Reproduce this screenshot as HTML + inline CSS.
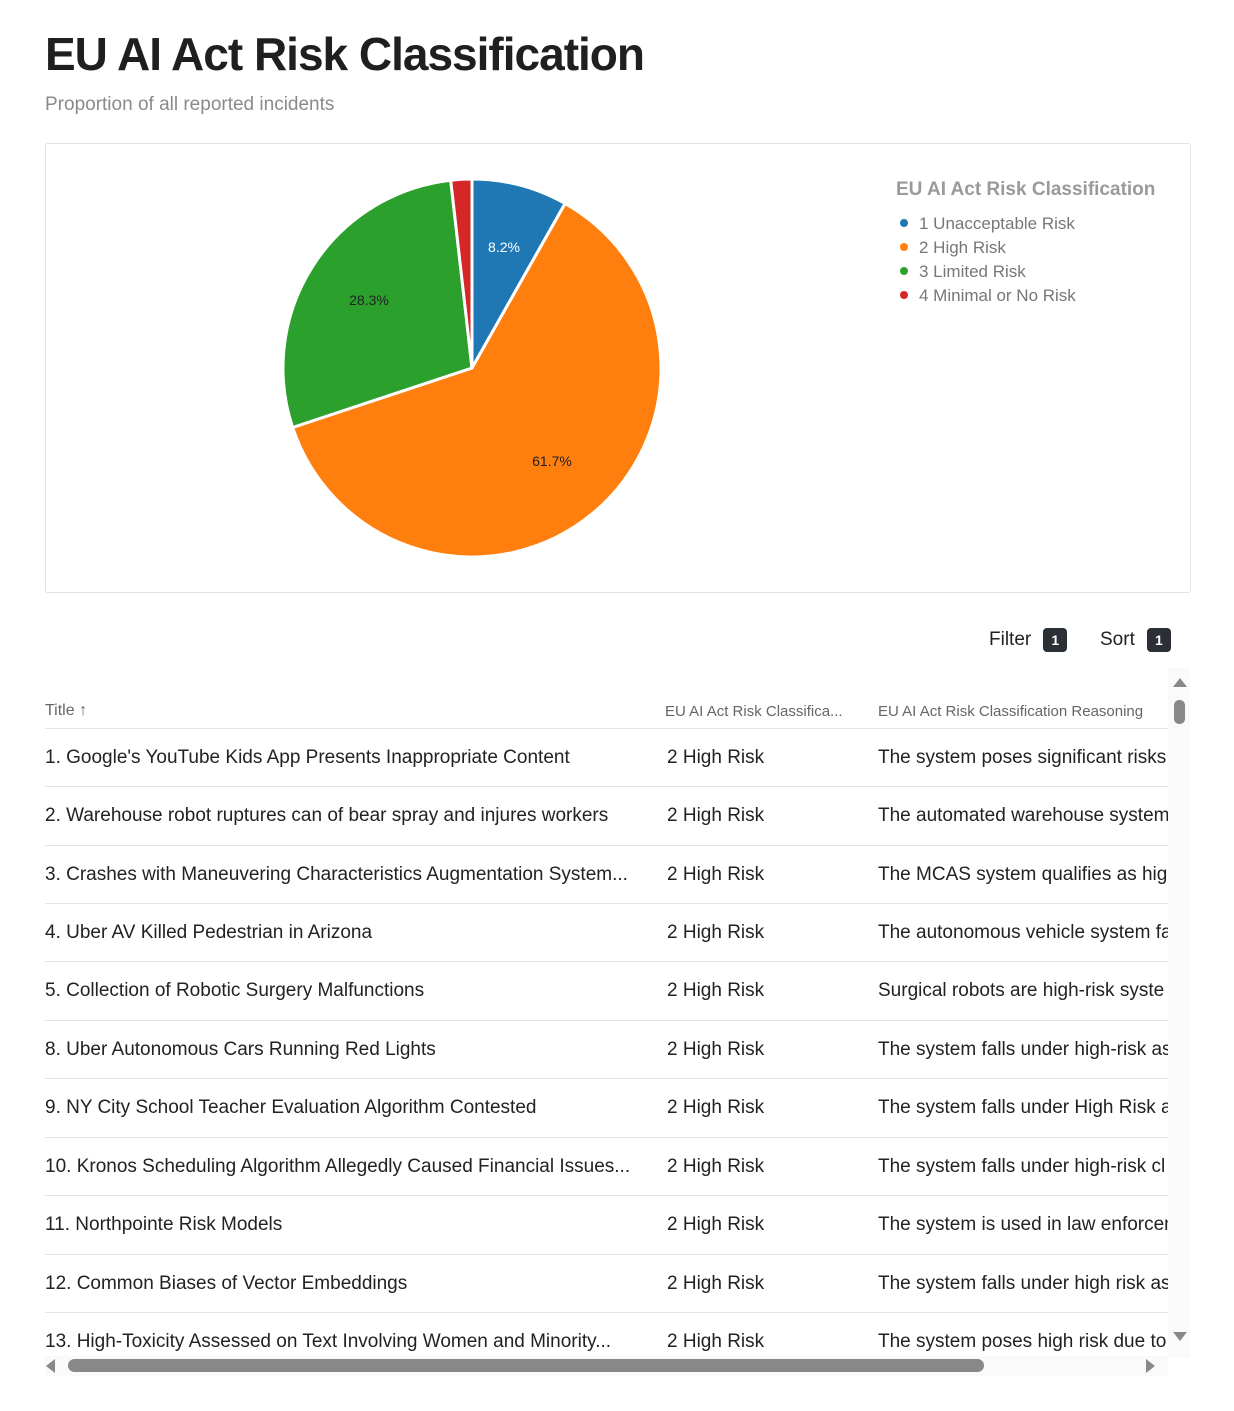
<!DOCTYPE html>
<html><head><meta charset="utf-8"><style>
body{margin:0;width:1234px;height:1411px;background:#fff;font-family:"Liberation Sans",sans-serif;position:relative;overflow:hidden;color:#222}
.a{position:absolute;white-space:nowrap}
.row{position:absolute;left:45px;width:1123px;height:58px;border-top:1px solid #e4e4e4}
.row span{position:absolute;top:18px;font-size:19px;color:#222;white-space:nowrap;overflow:hidden}
.c1{left:0;width:600px}.c2{left:622px}.c3{left:833px;width:290px}
.badge{display:inline-block;background:#2b2f36;color:#fff;font-size:14px;font-weight:bold;width:24px;height:24px;line-height:24px;text-align:center;border-radius:4px;margin-left:12px;vertical-align:middle}
</style></head><body>
<div class="a" style="left:45px;top:27px;font-size:46px;font-weight:bold;color:#1f1f1f;letter-spacing:-1px">EU AI Act Risk Classification</div>
<div class="a" style="left:45px;top:94px;font-size:19px;color:#8a8a8a">Proportion of all reported incidents</div>
<div class="a" style="left:45px;top:143px;width:1144px;height:448px;border:1px solid #e3e3e3;border-radius:3px"></div>
<svg class="a" style="left:0;top:0" width="1234" height="600">
<g stroke="#fff" stroke-width="3" stroke-linejoin="round">
<path d="M472,368 L472,179 A189,189 0 0 1 565.1,203.5 Z" fill="#1f77b4"/>
<path d="M472,368 L565.1,203.5 A189,189 0 1 1 292.6,427.5 Z" fill="#ff7f0e"/>
<path d="M472,368 L292.6,427.5 A189,189 0 0 1 450.7,180.2 Z" fill="#2ca02c"/>
<path d="M472,368 L450.7,180.2 A189,189 0 0 1 472,179 Z" fill="#d62728"/>
</g>
<g font-family="Liberation Sans,sans-serif" font-size="14" text-anchor="middle">
<text x="504" y="252" fill="#fff">8.2%</text>
<text x="369" y="305" fill="#222">28.3%</text>
<text x="552" y="466" fill="#222">61.7%</text>
</g>
<g font-family="Liberation Sans,sans-serif">
<text x="896" y="195" font-size="19" font-weight="bold" fill="#9a9a9a">EU AI Act Risk Classification</text>
<circle cx="904" cy="223" r="4" fill="#1f77b4"/><text x="919" y="229" font-size="17" fill="#777">1 Unacceptable Risk</text>
<circle cx="904" cy="247" r="4" fill="#ff7f0e"/><text x="919" y="253" font-size="17" fill="#777">2 High Risk</text>
<circle cx="904" cy="271" r="4" fill="#2ca02c"/><text x="919" y="277" font-size="17" fill="#777">3 Limited Risk</text>
<circle cx="904" cy="295" r="4" fill="#d62728"/><text x="919" y="301" font-size="17" fill="#777">4 Minimal or No Risk</text>
</g></svg>
<div class="a" style="left:989px;top:628px;font-size:19px;color:#222">Filter<span class="badge">1</span></div>
<div class="a" style="left:1100px;top:628px;font-size:19px;color:#222">Sort<span class="badge">1</span></div>
<div class="a" style="left:45px;top:702px;font-size:16px;color:#666">Title ↑</div>
<div class="a" style="left:665px;top:703px;font-size:15px;color:#666">EU AI Act Risk Classifica...</div>
<div class="a" style="left:878px;top:703px;font-size:15px;color:#666">EU AI Act Risk Classification Reasoning</div>
<div class="row" style="top:728px"><span class="c1">1. Google's YouTube Kids App Presents Inappropriate Content</span><span class="c2">2 High Risk</span><span class="c3">The system poses significant risks</span></div>
<div class="row" style="top:786px"><span class="c1">2. Warehouse robot ruptures can of bear spray and injures workers</span><span class="c2">2 High Risk</span><span class="c3">The automated warehouse system</span></div>
<div class="row" style="top:845px"><span class="c1">3. Crashes with Maneuvering Characteristics Augmentation System...</span><span class="c2">2 High Risk</span><span class="c3">The MCAS system qualifies as high</span></div>
<div class="row" style="top:903px"><span class="c1">4. Uber AV Killed Pedestrian in Arizona</span><span class="c2">2 High Risk</span><span class="c3">The autonomous vehicle system fa</span></div>
<div class="row" style="top:961px"><span class="c1">5. Collection of Robotic Surgery Malfunctions</span><span class="c2">2 High Risk</span><span class="c3">Surgical robots are high-risk syste</span></div>
<div class="row" style="top:1020px"><span class="c1">8. Uber Autonomous Cars Running Red Lights</span><span class="c2">2 High Risk</span><span class="c3">The system falls under high-risk as</span></div>
<div class="row" style="top:1078px"><span class="c1">9. NY City School Teacher Evaluation Algorithm Contested</span><span class="c2">2 High Risk</span><span class="c3">The system falls under High Risk a</span></div>
<div class="row" style="top:1137px"><span class="c1">10. Kronos Scheduling Algorithm Allegedly Caused Financial Issues...</span><span class="c2">2 High Risk</span><span class="c3">The system falls under high-risk cl</span></div>
<div class="row" style="top:1195px"><span class="c1">11. Northpointe Risk Models</span><span class="c2">2 High Risk</span><span class="c3">The system is used in law enforcem</span></div>
<div class="row" style="top:1254px"><span class="c1">12. Common Biases of Vector Embeddings</span><span class="c2">2 High Risk</span><span class="c3">The system falls under high risk as</span></div>
<div class="row" style="top:1312px;height:44px"><span class="c1">13. High-Toxicity Assessed on Text Involving Women and Minority...</span><span class="c2">2 High Risk</span><span class="c3">The system poses high risk due to</span></div>
<div class="a" style="left:1168px;top:668px;width:22px;height:690px;background:#fafafa"></div>
<div class="a" style="left:1173px;top:678px;width:0;height:0;border-left:7px solid transparent;border-right:7px solid transparent;border-bottom:9px solid #888"></div>
<div class="a" style="left:1174px;top:700px;width:11px;height:24px;background:#888;border-radius:5px"></div>
<div class="a" style="left:1173px;top:1332px;width:0;height:0;border-left:7px solid transparent;border-right:7px solid transparent;border-top:9px solid #888"></div>
<div class="a" style="left:45px;top:1356px;width:1123px;height:20px;background:#fafafa"></div>
<div class="a" style="left:46px;top:1359px;width:0;height:0;border-top:7px solid transparent;border-bottom:7px solid transparent;border-right:9px solid #888"></div>
<div class="a" style="left:68px;top:1359px;width:916px;height:13px;background:#888;border-radius:7px"></div>
<div class="a" style="left:1146px;top:1359px;width:0;height:0;border-top:7px solid transparent;border-bottom:7px solid transparent;border-left:9px solid #888"></div>
</body></html>
